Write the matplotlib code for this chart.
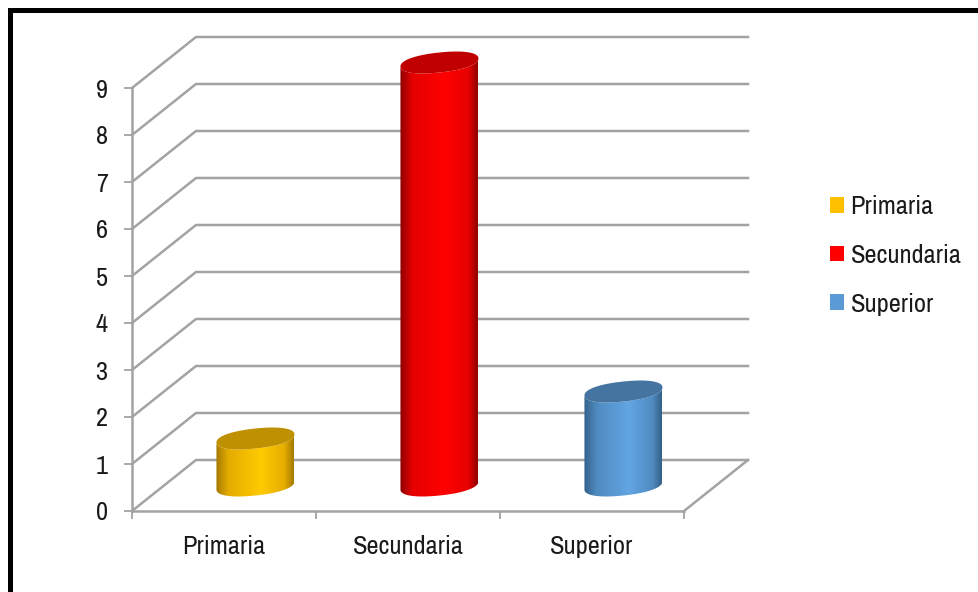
# -*- coding: utf-8 -*-
import numpy as np
import matplotlib
matplotlib.use("Agg")
import matplotlib.pyplot as plt
from matplotlib.colors import LinearSegmentedColormap
from matplotlib.patches import Patch, Polygon, Rectangle

CATEGORIES = ["Primaria", "Secundaria", "Superior"]
VALUES = [1, 9, 2]
Y_TICKS = [0, 1, 2, 3, 4, 5, 6, 7, 8, 9]

# colores: lado oscuro, lado medio, brillo, tapa, leyenda
COLORS = [
    ("#A37A00", "#E5AC00", "#FFCB00", "#BF9000", "#FFC000"),
    ("#8E0000", "#E60000", "#FF0000", "#C00000", "#FF0000"),
    ("#33608A", "#4F8BC0", "#62A6E4", "#44749F", "#5B9BD5"),
]
COLOR_GRID = "#A3A3A3"

FONT = ["Archivo Narrow", "Roboto Condensed", "Liberation Sans"]
FONT_SIZE = 19

W, H = 979, 592
# perspectiva en unidades de datos (1 categoria = 184 px, 1 unidad = 47 px)
DEPTH_X = 64 / 184
DEPTH_Y = 51 / 47
BAR_A = 39 / 184
BAR_B = 10 / 47
BAR_TILT = 4 / 47


def ellipse(cx, cy, t):
    # superelipse: la tapa del original es algo mas llena en los lados
    c, s = np.cos(t), np.sin(t)
    c = np.sign(c) * np.abs(c) ** 0.9
    s = np.sign(s) * np.abs(s) ** 0.9
    return np.column_stack([cx + BAR_A * c, cy + BAR_B * s + BAR_TILT * c])


def draw_cylinder(ax, cx, base, value, colors):
    dark, mid, light, cap, _ = colors
    top = base + value
    t_front = np.linspace(np.pi, 2 * np.pi, 60)
    side = np.vstack([ellipse(cx, base, t_front), ellipse(cx, top, t_front)[::-1]])
    clip = Polygon(side, closed=True, transform=ax.transData)

    cmap = LinearSegmentedColormap.from_list(
        "lado", [(0, dark), (0.16, mid), (0.58, light), (0.88, mid), (1, dark)]
    )
    im = ax.imshow(
        np.linspace(0, 1, 256)[None, :], cmap=cmap, aspect="auto", zorder=3,
        extent=(cx - BAR_A, cx + BAR_A, base - 0.5, top + 0.5),
    )
    im.set_clip_box(ax.figure.bbox)
    im.set_clip_path(clip)

    t_all = np.linspace(0, 2 * np.pi, 120)
    ax.add_patch(Polygon(ellipse(cx, top, t_all), closed=True, facecolor=cap,
                         edgecolor="none", zorder=4, clip_on=False))


def main():
    fig = plt.figure(figsize=(W / 100, H / 100), dpi=100, facecolor="white")
    ax = fig.add_axes([132 / W, (H - 511) / H, 552 / W, 423 / H])

    # paredes: lineas del fondo y diagonales laterales
    for v in Y_TICKS:
        ax.plot([0, DEPTH_X, 3 + DEPTH_X], [v, v + DEPTH_Y, v + DEPTH_Y],
                color=COLOR_GRID, lw=1.8, clip_on=False, zorder=1)
    ax.plot([3, 3 + DEPTH_X], [0, DEPTH_Y], color=COLOR_GRID, lw=1.8, clip_on=False, zorder=1)

    for i, (value, colors) in enumerate(zip(VALUES, COLORS)):
        draw_cylinder(ax, i + 0.5 + DEPTH_X / 2 - 0.003, DEPTH_Y / 2, value, colors)

    ax.set_xlim(0, 3)
    ax.set_ylim(0, 9)
    ax.patch.set_visible(False)
    ax.spines[["top", "right"]].set_visible(False)
    ax.spines[["left", "bottom"]].set_color(COLOR_GRID)
    ax.spines[["left", "bottom"]].set_linewidth(1.8)

    ax.set_yticks(Y_TICKS)
    ax.set_xticks([0, 1, 2, 3])
    ax.set_xticklabels([])
    ax.set_xticks([0.5, 1.5, 2.5], minor=True)
    ax.set_xticklabels(CATEGORIES, minor=True, family=FONT, fontsize=FONT_SIZE, color="#1A1A1A")
    ax.tick_params(axis="x", which="minor", length=0, pad=17)
    ax.tick_params(axis="both", which="major", length=5.5, width=1.3, color=COLOR_GRID)
    ax.tick_params(axis="y", pad=12)
    for lab in ax.get_yticklabels():
        lab.set_family(FONT)
        lab.set_fontsize(FONT_SIZE)
        lab.set_color("#1A1A1A")

    handles = [Patch(facecolor=c[4], edgecolor="none") for c in COLORS]
    fig.legend(
        handles, CATEGORIES, loc="upper left", bbox_to_anchor=(830 / W, 1 - 195 / H),
        bbox_transform=fig.transFigure, frameon=False, borderaxespad=0, borderpad=0,
        prop={"family": FONT, "size": FONT_SIZE}, labelcolor="#1A1A1A",
        handlelength=0.52, handleheight=0.55, handletextpad=0.26, labelspacing=0.98,
    )

    # marco negro (solo arriba e izquierda quedan dentro de la imagen)
    fig.add_artist(Rectangle((8 / W, 1 - 13 / H), 1 - 8 / W, 5 / H, transform=fig.transFigure,
                             facecolor="black", edgecolor="none"))
    fig.add_artist(Rectangle((8 / W, 0), 5 / W, 1 - 8 / H, transform=fig.transFigure,
                             facecolor="black", edgecolor="none"))

    fig.savefig("out.png", dpi=100)
    plt.close(fig)


if __name__ == "__main__":
    main()
